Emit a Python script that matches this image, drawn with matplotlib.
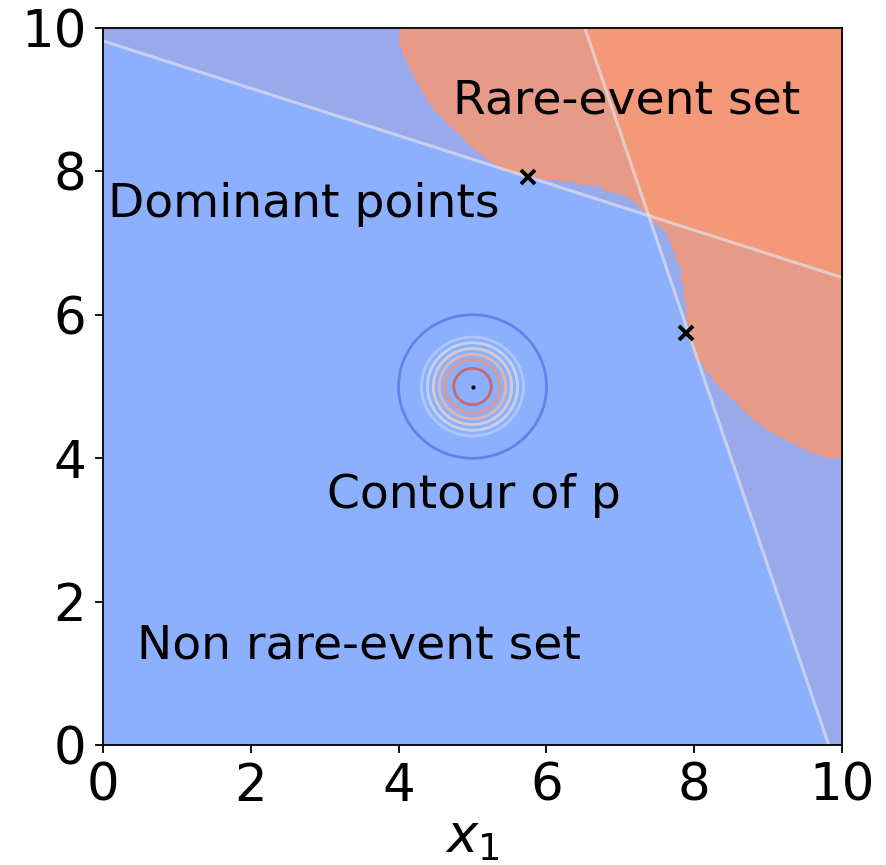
import numpy as np
import matplotlib
matplotlib.use("Agg")
import matplotlib.pyplot as plt
from matplotlib.colors import ListedColormap
from matplotlib.path import Path

# ---- data ----
# boundary of the rare-event set (joined to the top-right corner)
boundary_x = [3.99, 4.02, 4.24, 4.52, 4.99, 5.37, 5.75, 6.10, 6.68, 7.13, 7.38,
              7.63, 7.80, 7.89, 7.93, 8.05, 8.34, 8.80, 9.24, 9.70, 10.0]
boundary_y = [10.0, 9.70, 9.24, 8.80, 8.34, 8.05, 7.93, 7.89, 7.80, 7.63, 7.38,
              7.13, 6.68, 6.10, 5.75, 5.37, 4.99, 4.52, 4.24, 4.02, 3.99]

# tangent lines at the dominant points (end points)
line1_x = [0.0, 10.0]
line1_y = [9.82, 6.52]
line2_x = [6.52, 9.82]
line2_y = [10.0, 0.0]

# dominant points
dom_x = [5.75, 7.89]
dom_y = [7.92, 5.74]

# density p: mean, std and contour levels
p_mean = (5.0, 5.0)
p_std = 0.5
p_levels = [0.135, 0.386, 0.475, 0.570, 0.667, 0.760, 0.88]

ticks = [0, 2, 4, 6, 8, 10]

region_colors = ["#8db0fe", "#99aaec", "#e69a87", "#f3997a"]

# ---- figure ----
fig = plt.figure(figsize=(8.87, 8.65), dpi=100)
ax = fig.add_axes([0.1161, 0.1387, 0.8332, 0.8289])

n = 260
gx = np.linspace(0, 10, n)
gy = np.linspace(0, 10, n)
X, Y = np.meshgrid(gx, gy)

poly = list(zip(boundary_x, boundary_y)) + [(10.5, 3.99), (10.5, 10.5), (3.99, 10.5)]
path = Path(poly)
R = path.contains_points(np.column_stack([X.ravel(), Y.ravel()])).reshape(X.shape)

s1 = (line1_y[1] - line1_y[0]) / (line1_x[1] - line1_x[0])
above1 = Y > line1_y[0] + s1 * (X - line1_x[0])
s2 = (line2_x[1] - line2_x[0]) / (line2_y[1] - line2_y[0])
right2 = X > line2_x[0] + s2 * (Y - line2_y[0])
count = above1.astype(int) + right2.astype(int)

cat = np.where(R, np.where(count == 2, 3, 2), np.where(count >= 1, 1, 0))
ax.imshow(cat, extent=[0, 10, 0, 10], origin="lower", interpolation="nearest",
          cmap=ListedColormap(region_colors), vmin=-0.5, vmax=3.5, aspect="auto")

# tangent lines
ax.plot(line1_x, line1_y, color="#e4e4ee", alpha=0.65, lw=2.2)
ax.plot(line2_x, line2_y, color="#e4e4ee", alpha=0.65, lw=2.2)

# contour of p
m = 500
cx = np.linspace(3.5, 6.5, m)
CX, CY = np.meshgrid(cx, cx)
P = np.exp(-((CX - p_mean[0]) ** 2 + (CY - p_mean[1]) ** 2) / (2 * p_std ** 2))
ax.contour(CX, CY, P, levels=p_levels, cmap="coolwarm", vmin=0.04, vmax=0.98,
           linewidths=2.0, alpha=0.8)
ax.plot([p_mean[0]], [p_mean[1]], "k.", markersize=4)

# dominant points
ax.plot(dom_x, dom_y, "kx", markersize=10, mew=2.8)

fs = 34
ax.text(4.74, 8.81, "Rare-event set", fontsize=fs, va="baseline")
ax.text(0.07, 7.36, "Dominant points", fontsize=fs, va="baseline")
ax.text(3.03, 3.31, "Contour of p", fontsize=fs, va="baseline")
ax.text(0.46, 1.21, "Non rare-event set", fontsize=fs, va="baseline")

ax.set_xlim(0, 10)
ax.set_ylim(0, 10)
ax.set_xticks(ticks)
ax.set_yticks(ticks)
ax.tick_params(labelsize=37, length=6, width=1.3, pad=6)
for sp in ax.spines.values():
    sp.set_linewidth(1.3)
ax.set_xlabel("$x_1$", fontsize=38, labelpad=0)

fig.savefig("out.png", dpi=100)
